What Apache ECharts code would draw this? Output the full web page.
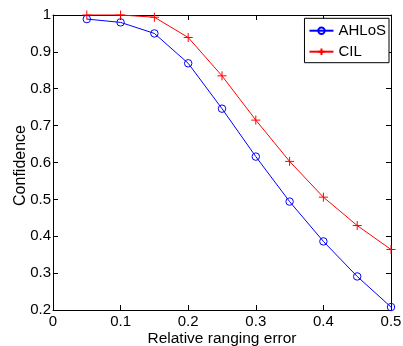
<!DOCTYPE html>
<html><head><meta charset="utf-8">
<script src="https://cdn.jsdelivr.net/npm/echarts@6/dist/echarts.min.js"></script>
<style>html,body{margin:0;padding:0;background:#fff}#c{width:403px;height:346px}</style>
</head><body><div id="c"></div>
<script>
const xValues = [0.05, 0.1, 0.15, 0.2, 0.25, 0.3, 0.35, 0.4, 0.45, 0.5];
const ahlos = [0.989, 0.980, 0.950, 0.869, 0.746, 0.616, 0.494, 0.386, 0.291, 0.208];
const cil = [1.0, 1.0, 0.994, 0.939, 0.835, 0.715, 0.603, 0.506, 0.429, 0.364];
const seriesNames = ['AHLoS', 'CIL'];
const xTitle = 'Relative ranging error';
const yTitle = 'Confidence';

const font = "'Liberation Sans', Arial, sans-serif";
const chart = echarts.init(document.getElementById('c'));
const plus = 'path://M0,-1L0,1M-1,0L1,0';
const axBase = {
  axisLine: {show: true, onZero: false, lineStyle: {color: '#000', width: 1}},
  axisTick: {show: true, inside: true, length: 5, lineStyle: {color: '#000'}},
  splitLine: {show: false}
};
chart.setOption({
  animation: false,
  grid: {left: 53, right: 12, top: 15, bottom: 36, containLabel: false, outerBoundsMode: 'none'},
  legend: {
    orient: 'vertical', right: 14, top: 18.3,
    data: seriesNames,
    backgroundColor: '#fff', borderColor: '#000', borderWidth: 1,
    padding: [3.9, 3, 2.5, 4], itemGap: 4, itemWidth: 24, itemHeight: 8,
    textStyle: {fontFamily: font, fontSize: 15, color: '#000', lineHeight: 17}
  },
  xAxis: [
    Object.assign({}, axBase, {
      type: 'value', min: 0, max: 0.5, interval: 0.1,
      name: xTitle, nameLocation: 'middle', nameGap: 21, nameMoveOverlap: false,
      nameTextStyle: {fontFamily: font, fontSize: 15.5, color: '#000'},
      axisLabel: {fontFamily: font, fontSize: 15, color: '#000', margin: 4}
    }),
    Object.assign({}, axBase, {
      type: 'value', min: 0, max: 0.5, interval: 0.1, position: 'top',
      axisLabel: {show: false}
    })
  ],
  yAxis: [
    Object.assign({}, axBase, {
      type: 'value', min: 0.2, max: 1, interval: 0.1,
      name: yTitle, nameLocation: 'middle', nameGap: 24.5, nameMoveOverlap: false,
      nameTextStyle: {fontFamily: font, fontSize: 16, color: '#000', padding: [0, 6, 0, 0]},
      axisLabel: {fontFamily: font, fontSize: 15, color: '#000', margin: 2,
        formatter: v => (Math.round(v * 10) / 10).toString()}
    }),
    Object.assign({}, axBase, {
      type: 'value', min: 0.2, max: 1, interval: 0.1, position: 'right',
      axisLabel: {show: false}
    })
  ],
  series: [
    {
      name: seriesNames[0], type: 'line',
      data: xValues.map((x, i) => [x, ahlos[i]]),
      symbol: 'circle', symbolSize: 7.5,
      lineStyle: {color: '#0000ff', width: 1},
      itemStyle: {color: 'rgba(0,0,0,0)', borderColor: '#0000ff', borderWidth: 1},
      clip: false
    },
    {
      name: seriesNames[1], type: 'line',
      data: xValues.map((x, i) => [x, cil[i]]),
      symbol: plus, symbolSize: 9,
      lineStyle: {color: '#ff0000', width: 1},
      itemStyle: {color: 'rgba(0,0,0,0)', borderColor: '#ff0000', borderWidth: 1},
      clip: false
    }
  ]
});
</script></body></html>
